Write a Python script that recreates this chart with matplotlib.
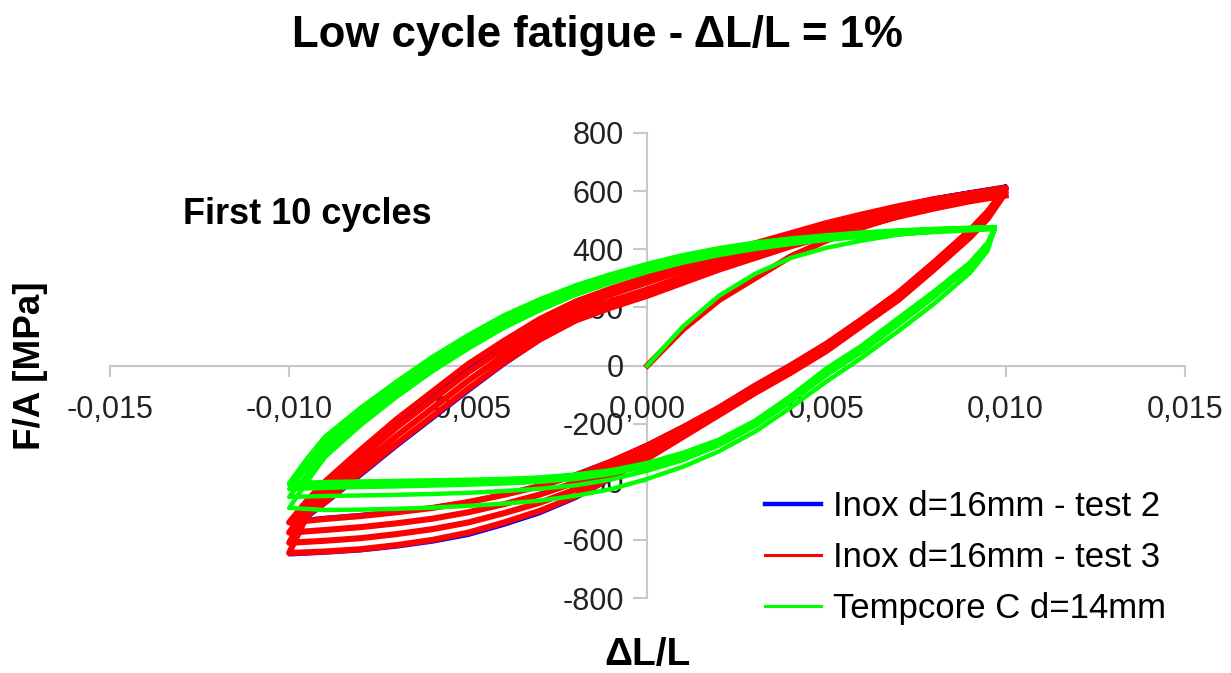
import matplotlib
matplotlib.use('Agg')
import matplotlib.pyplot as plt

plt.rcParams['font.family'] = ['Liberation Sans', 'DejaVu Sans']

# strain grids (Inox loops reach +/-1%, Tempcore peak a bit lower)
x_init = [0.000, 0.001, 0.002, 0.003, 0.004, 0.005, 0.006, 0.007, 0.008, 0.009, 0.010]
x_down = [0.0100, 0.0095, 0.0090, 0.0080, 0.0070, 0.0060, 0.0050, 0.0040, 0.0030, 0.0020, 0.0010,
          0.0000, -0.0010, -0.0020, -0.0030, -0.0040, -0.0050, -0.0060, -0.0070, -0.0080, -0.0090, -0.0100]
x_up = [-0.0100, -0.0095, -0.0090, -0.0080, -0.0070, -0.0060, -0.0050, -0.0040, -0.0030, -0.0020, -0.0010,
        0.0000, 0.0010, 0.0020, 0.0030, 0.0040, 0.0050, 0.0060, 0.0070, 0.0080, 0.0090, 0.0100]
xg_init = [0.000, 0.001, 0.002, 0.003, 0.004, 0.005, 0.006, 0.007, 0.008, 0.009, 0.0097]
xg_down = [0.0097, 0.0095, 0.0090, 0.0080, 0.0070, 0.0060, 0.0050, 0.0040, 0.0030, 0.0020, 0.0010,
           0.0000, -0.0010, -0.0020, -0.0030, -0.0040, -0.0050, -0.0060, -0.0070, -0.0080, -0.0090, -0.0100]
xg_up = [-0.0100, -0.0095, -0.0090, -0.0080, -0.0070, -0.0060, -0.0050, -0.0040, -0.0030, -0.0020, -0.0010,
         0.0000, 0.0010, 0.0020, 0.0030, 0.0040, 0.0050, 0.0060, 0.0070, 0.0080, 0.0090, 0.0097]

# Inox d=16mm - test 2 (blue)
test2_init = [0, 128, 228, 305, 380, 435, 480, 520, 555, 585, 618]
test2_down = [
    [618, 535, 470, 360, 255, 165, 80, 5, -65, -140, -208, -270, -325, -372, -410, -440, -466, -486, -500, -512, -522, -535],
    [615, 528, 462, 352, 246, 157, 70, -5, -80, -158, -235, -318, -392, -458, -510, -550, -585, -608, -625, -638, -646, -652],
]
test2_up = [
    [-535, -470, -410, -300, -195, -100, -8, 72, 147, 207, 252, 293, 335, 377, 414, 452, 488, 520, 550, 576, 597, 615],
    [-652, -525, -478, -380, -280, -185, -90, 2, 85, 152, 205, 255, 305, 355, 400, 442, 482, 518, 550, 577, 598, 618],
]

# Inox d=16mm - test 3 (red)
test3_init = [0, 125, 225, 300, 375, 430, 475, 515, 550, 580, 610]
test3_down = [
    [610, 530, 465, 355, 250, 160, 75, 0, -70, -145, -212, -275, -330, -378, -415, -445, -470, -490, -505, -518, -528, -540],
    [612, 522, 457, 347, 242, 153, 67, -8, -78, -153, -222, -290, -348, -402, -444, -477, -505, -527, -543, -556, -566, -575],
    [603, 515, 450, 340, 235, 146, 60, -16, -87, -162, -231, -305, -366, -426, -472, -508, -540, -563, -580, -594, -603, -610],
    [595, 505, 440, 330, 225, 138, 50, -25, -95, -170, -245, -320, -385, -450, -500, -540, -575, -600, -618, -632, -640, -645],
]
test3_up = [
    [-540, -465, -400, -290, -185, -90, 5, 85, 160, 220, 265, 305, 345, 385, 420, 455, 490, 520, 548, 572, 592, 612],
    [-575, -485, -425, -318, -213, -118, -23, 60, 137, 198, 245, 286, 327, 369, 404, 440, 475, 506, 536, 561, 583, 603],
    [-610, -500, -445, -345, -242, -147, -52, 35, 113, 176, 222, 262, 305, 349, 387, 425, 460, 493, 524, 550, 574, 595],
    [-645, -515, -470, -370, -270, -175, -80, 10, 90, 155, 200, 240, 285, 330, 370, 410, 445, 480, 512, 540, 565, 585],
]

# Tempcore C d=14mm (green)
tempcore_init = [0, 135, 240, 315, 370, 405, 430, 450, 462, 470, 475]
tempcore_down = [
    [475, 395, 318, 212, 118, 28, -55, -145, -228, -295, -348, -390, -425, -448, -465, -475, -483, -489, -493, -496, -497, -490],
    [470, 410, 338, 235, 140, 48, -33, -125, -208, -275, -325, -362, -392, -412, -424, -432, -438, -442, -445, -447, -449, -452],
    [471, 418, 347, 246, 153, 60, -20, -115, -198, -264, -310, -347, -373, -390, -400, -406, -410, -413, -416, -418, -421, -425],
    [473, 420, 350, 250, 158, 65, -15, -110, -195, -260, -305, -340, -365, -380, -390, -395, -398, -400, -402, -404, -406, -410],
    [475, 423, 354, 255, 163, 70, -10, -105, -190, -255, -300, -335, -360, -375, -385, -390, -393, -395, -397, -399, -401, -405],
]
tempcore_up = [
    [-490, -400, -315, -205, -108, -20, 58, 130, 190, 243, 285, 322, 354, 380, 401, 418, 432, 443, 452, 459, 465, 470],
    [-452, -375, -295, -190, -95, -8, 70, 142, 200, 252, 294, 330, 362, 388, 408, 424, 437, 448, 456, 463, 468, 471],
    [-425, -350, -275, -172, -80, 6, 82, 153, 209, 260, 301, 337, 368, 393, 413, 428, 440, 450, 458, 465, 470, 473],
    [-410, -330, -258, -158, -68, 18, 93, 163, 218, 268, 308, 343, 373, 398, 418, 432, 444, 454, 462, 468, 473, 475],
    [-405, -320, -245, -145, -55, 30, 105, 173, 228, 276, 315, 350, 380, 404, 423, 437, 448, 458, 465, 470, 474, 476],
]

x_ticks = [-0.015, -0.010, -0.005, 0.000, 0.005, 0.010, 0.015]
y_ticks = [-800, -600, -400, -200, 0, 200, 400, 600, 800]


def build_path(xi, yi, xd, downs, xu, ups):
    xs = list(xi)
    ys = list(yi)
    for d, u in zip(downs, ups):
        xs += xd + xu
        ys += d + u
    return xs, ys


fig = plt.figure(figsize=(12.31, 6.73), dpi=100)
ax = fig.add_axes([0.0894, 0.1114, 0.873, 0.691])

bx, by = build_path(x_init, test2_init, x_down, test2_down, x_up, test2_up)
rx, ry = build_path(x_init, test3_init, x_down, test3_down, x_up, test3_up)
gx, gy = build_path(xg_init, tempcore_init, xg_down, tempcore_down, xg_up, tempcore_up)

ax.plot(bx, by, color='#0000ff', lw=2.2, label='Inox d=16mm - test 2', zorder=3)
ax.plot(rx, ry, color='#ff0000', lw=4.4, label='Inox d=16mm - test 3', zorder=4)
ax.plot(gx, gy, color='#00ff00', lw=3.2, label='Tempcore C d=14mm', zorder=5)

ax.set_xlim(-0.015, 0.015)
ax.set_ylim(-800, 800)
ax.set_xticks(x_ticks)
ax.set_yticks(y_ticks)
ax.set_xticklabels([('%.3f' % v).replace('.', ',').replace('-0,000', '0,000') for v in x_ticks])
ax.set_yticklabels([str(v) for v in y_ticks])

for s in ['top', 'right']:
    ax.spines[s].set_visible(False)
ax.spines['left'].set_position(('data', 0))
ax.spines['bottom'].set_position(('data', 0))
for s in ['left', 'bottom']:
    ax.spines[s].set_color('#c8c8c8')
    ax.spines[s].set_linewidth(1.5)
    ax.spines[s].set_zorder(1)
ax.set_axisbelow(False)
ax.tick_params(axis='x', direction='out', length=8, width=1.5, color='#c8c8c8',
               labelsize=22, pad=13, labelcolor='#222222')
ax.tick_params(axis='y', direction='out', length=10, width=1.5, color='#c8c8c8',
               labelsize=22, pad=7, labelcolor='#222222')
for lab in ax.get_xticklabels() + ax.get_yticklabels():
    lab.set_zorder(10)
ax.patch.set_visible(False)

ax.text(-0.01297, 518, 'First 10 cycles', fontsize=26, fontweight='bold', va='center', ha='left')

leg = ax.legend(loc='upper left', bbox_to_anchor=(765 / 1231, 1 - 490 / 673),
                bbox_transform=fig.transFigure, frameon=False, fontsize=25,
                handlelength=1.6, handletextpad=0.35, labelspacing=0.52,
                borderpad=0.0, borderaxespad=0.0)
for h, w in zip(leg.get_lines(), [3.2, 2.2, 2.2]):
    h.set_linewidth(w)

fig.text(597 / 1231, 1 - 35 / 673, 'Low cycle fatigue - \u0394L/L = 1%', ha='center', va='center',
         fontsize=31.5, fontweight='bold')
fig.text(30 / 1231, 1 - 366 / 673, 'F/A [MPa]', ha='center', va='center', rotation=90,
         fontsize=26.5, fontweight='bold')
fig.text(648 / 1231, 1 - 655 / 673, '\u0394L/L', ha='center', va='center',
         fontsize=28, fontweight='bold')

fig.savefig('out.png', dpi=100)
